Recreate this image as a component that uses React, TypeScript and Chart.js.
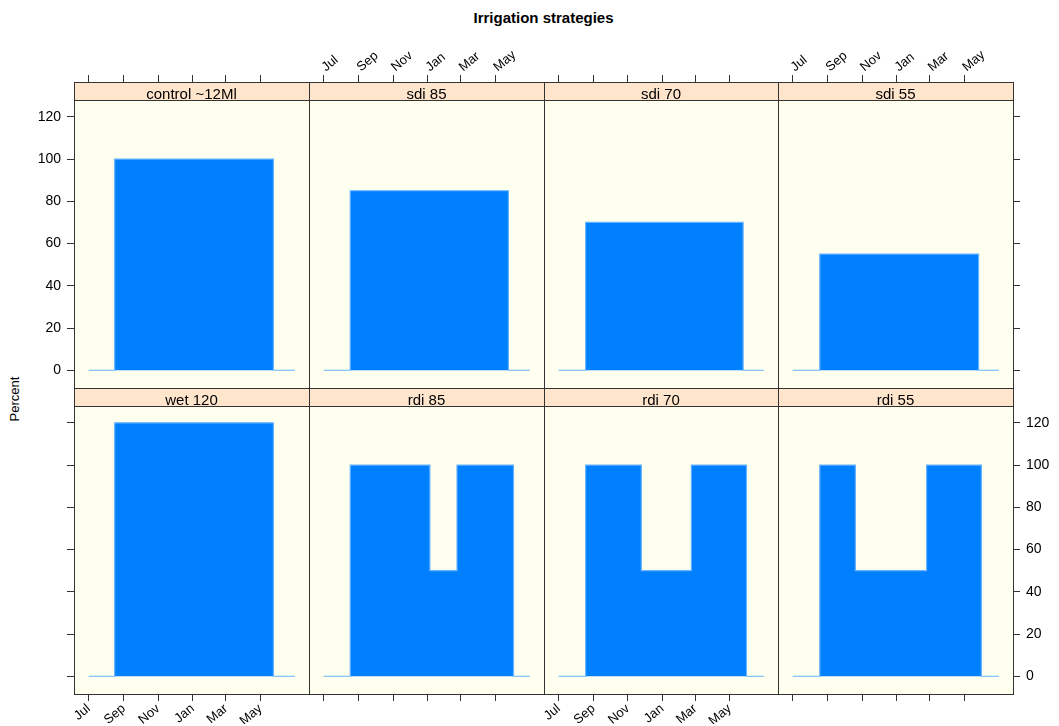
import React, { useEffect, useRef } from 'react';
import { Chart, registerables } from 'chart.js';

Chart.register(...registerables);

// ---------- data ----------
const MONTH_LABELS = ['Jul', 'Sep', 'Nov', 'Jan', 'Mar', 'May'];
const MONTH_DAYS = [0, 62, 123, 184, 243, 304]; // days since 1 July
const Y_TICKS = [0, 20, 40, 60, 80, 100, 120];

const PANEL_NAMES = ['control ~12Ml', 'sdi 85', 'sdi 70', 'sdi 55', 'wet 120', 'rdi 85', 'rdi 70', 'rdi 55'];

// step changes: day (since 1 July) where each level starts, and the level in percent
const controlDays = [0, 46, 327, 365];
const controlPct = [0, 100, 0, 0];
const sdi85Days = [0, 47, 327, 365];
const sdi85Pct = [0, 85, 0, 0];
const sdi70Days = [0, 48, 328, 365];
const sdi70Pct = [0, 70, 0, 0];
const sdi55Days = [0, 48, 329, 365];
const sdi55Pct = [0, 55, 0, 0];
const wet120Days = [0, 46, 327, 365];
const wet120Pct = [0, 120, 0, 0];
const rdi85Days = [0, 47, 188, 236, 336, 365];
const rdi85Pct = [0, 100, 50, 100, 0, 0];
const rdi70Days = [0, 48, 147, 236, 334, 365];
const rdi70Pct = [0, 100, 50, 100, 0, 0];
const rdi55Days = [0, 48, 111, 237, 334, 365];
const rdi55Pct = [0, 100, 50, 100, 0, 0];

const SERIES_DAYS = [controlDays, sdi85Days, sdi70Days, sdi55Days, wet120Days, rdi85Days, rdi70Days, rdi55Days];
const SERIES_PCT = [controlPct, sdi85Pct, sdi70Pct, sdi55Pct, wet120Pct, rdi85Pct, rdi70Pct, rdi55Pct];

// ---------- layout ----------
const W = 1059;
const H = 726;
const COL_EDGES = [74, 309, 544, 778, 1013];
const ROW_EDGES = [82, 388, 694];
const STRIP_H = 18;
const X_MIN = -26;
const X_MAX = 390;
const Y_MIN = -8.4;
const Y_MAX = 136.5;
// fixed axis box sizes (so the plot areas land exactly on the panel rectangles)
const AX_LEFT = 60;
const AX_RIGHT = 40;
const AX_TOP = 40;
const AX_BOTTOM = 30;

const FONT = "'Liberation Sans', Arial, Helvetica, sans-serif";
const BORDER = '#333333';

const stripPlugin = {
  id: 'panelDecor',
  beforeDraw(chart: any, _args: any, opts: any) {
    const { ctx, chartArea: a } = chart;
    ctx.save();
    ctx.fillStyle = '#FFFFF0';
    ctx.fillRect(a.left, a.top, a.right - a.left, a.bottom - a.top);
    ctx.fillStyle = '#FFE5CC';
    ctx.fillRect(a.left, a.top, a.right - a.left, STRIP_H);
    ctx.strokeStyle = BORDER;
    ctx.lineWidth = 1;
    ctx.beginPath();
    ctx.moveTo(a.left, Math.round(a.top + STRIP_H) + 0.5);
    ctx.lineTo(a.right, Math.round(a.top + STRIP_H) + 0.5);
    ctx.stroke();
    ctx.fillStyle = '#000';
    ctx.font = `15px ${FONT}`;
    ctx.textAlign = 'center';
    ctx.textBaseline = 'alphabetic';
    ctx.fillText(opts.label || '', (a.left + a.right) / 2, a.top + STRIP_H - 1);
    ctx.restore();
  },
};

function makeConfig(idx: number) {
  const r = Math.floor(idx / 4);
  const c = idx % 4;
  const isTop = r === 0;
  const isBottom = r === 1;
  const isLeft = c === 0;
  const isRight = c === 3;
  const left = COL_EDGES[c];
  const right = COL_EDGES[c + 1];
  const top = ROW_EDGES[r];
  const bottom = ROW_EDGES[r + 1];

  const data = SERIES_DAYS[idx].map((d, i) => ({ x: d, y: SERIES_PCT[idx][i] }));

  const xAxis = (position: string, size: number, showTicks: boolean, showLabels: boolean, offset: number) => ({
    type: 'linear',
    position,
    min: X_MIN,
    max: X_MAX,
    afterFit: (s: any) => {
      s.height = size;
    },
    afterBuildTicks: (s: any) => {
      s.ticks = MONTH_DAYS.map((v) => ({ value: v }));
    },
    ticks: {
      display: showLabels,
      callback: (v: any) => MONTH_LABELS[MONTH_DAYS.indexOf(Number(v))] ?? '',
      minRotation: 40,
      maxRotation: 40,
      autoSkip: false,
      padding: 0,
      labelOffset: offset,
      color: '#000',
      font: { family: FONT, size: 13 },
    },
    grid: {
      display: showTicks,
      drawOnChartArea: false,
      drawTicks: true,
      tickLength: 7,
      color: BORDER,
      lineWidth: 1,
    },
    border: { display: true, color: BORDER, width: 1 },
  });

  const yAxis = (position: string, size: number, showTicks: boolean, showLabels: boolean) => ({
    type: 'linear',
    position,
    min: Y_MIN,
    max: Y_MAX,
    afterFit: (s: any) => {
      s.width = size;
    },
    afterBuildTicks: (s: any) => {
      s.ticks = Y_TICKS.map((v) => ({ value: v }));
    },
    ticks: {
      display: showLabels,
      padding: 6,
      color: '#000',
      font: { family: FONT, size: 14 },
    },
    grid: {
      display: showTicks,
      drawOnChartArea: false,
      drawTicks: true,
      tickLength: 7,
      color: BORDER,
      lineWidth: 1,
    },
    border: { display: true, color: BORDER, width: 1 },
  });

  return {
    type: 'line',
    data: {
      datasets: [
        {
          label: PANEL_NAMES[idx],
          data,
          stepped: true,
          fill: 'origin',
          backgroundColor: '#0080FF',
          borderColor: '#66B2FF',
          borderWidth: 1.2,
          pointRadius: 0,
          pointHoverRadius: 0,
          tension: 0,
        },
      ],
    },
    options: {
      responsive: false,
      animation: false,
      events: [],
      layout: {
        padding: {
          left: left - AX_LEFT,
          top: top - AX_TOP,
          right: W - right - AX_RIGHT,
          bottom: H - bottom - AX_BOTTOM,
        },
      },
      plugins: {
        legend: { display: false },
        tooltip: { enabled: false },
        title: { display: false },
        panelDecor: { label: PANEL_NAMES[idx] },
      },
      scales: {
        x: xAxis('bottom', AX_BOTTOM, isBottom, isBottom && (c === 0 || c === 2), 0),
        x2: xAxis('top', AX_TOP, isTop, isTop && (c === 1 || c === 3), 10),
        y: yAxis('left', AX_LEFT, isLeft, isLeft && isTop),
        y2: yAxis('right', AX_RIGHT, isRight, isRight && isBottom),
      },
    },
    plugins: [stripPlugin],
  };
}

export default function App() {
  const refs = useRef<(HTMLCanvasElement | null)[]>([]);

  useEffect(() => {
    const charts: Chart[] = [];
    for (let i = 0; i < PANEL_NAMES.length; i++) {
      const cv = refs.current[i];
      if (!cv) continue;
      charts.push(new Chart(cv, makeConfig(i) as any));
    }
    return () => {
      charts.forEach((ch) => ch.destroy());
    };
  }, []);

  return (
    <div
      style={{
        position: 'fixed',
        left: 0,
        top: 0,
        width: W,
        height: H,
        background: '#ffffff',
        fontFamily: FONT,
        overflow: 'hidden',
      }}
    >
      <div
        style={{
          position: 'absolute',
          left: COL_EDGES[0],
          width: COL_EDGES[4] - COL_EDGES[0],
          top: 10,
          textAlign: 'center',
          fontWeight: 'bold',
          fontSize: 15,
          lineHeight: '16px',
          color: '#000',
        }}
      >
        Irrigation strategies
      </div>
      <div
        style={{
          position: 'absolute',
          left: 15,
          top: 399,
          transform: 'translate(-50%, -50%) rotate(-90deg)',
          fontSize: 13,
          lineHeight: '14px',
          color: '#000',
          whiteSpace: 'nowrap',
        }}
      >
        Percent
      </div>
      {PANEL_NAMES.map((name, i) => (
        <canvas
          key={name}
          ref={(el) => {
            refs.current[i] = el;
          }}
          width={W}
          height={H}
          style={{ position: 'absolute', left: 0, top: 0, width: W, height: H }}
        />
      ))}
    </div>
  );
}
